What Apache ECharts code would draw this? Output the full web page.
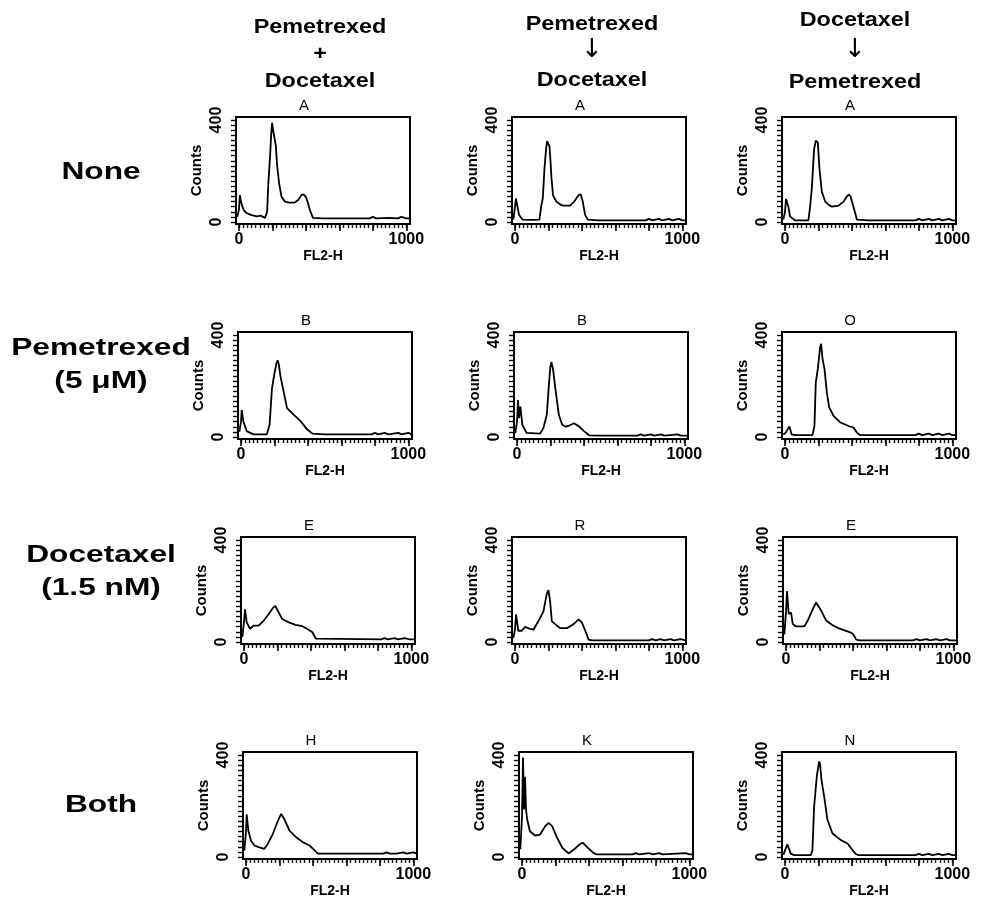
<!DOCTYPE html>
<html>
<head>
<meta charset="utf-8">
<script src="https://cdn.jsdelivr.net/npm/echarts@6/dist/echarts.min.js"></script>
<style>
  html, body { margin: 0; background: #fff; }
  #chart { width: 984px; height: 912px; }
</style>
</head>
<body>
<div id="chart"></div>
<script>
// column headers, row labels, panel letters
const colHeaders = [
  ['Pemetrexed', '+', 'Docetaxel'],
  ['Pemetrexed', '\u2193', 'Docetaxel'],
  ['Docetaxel', '\u2193', 'Pemetrexed']
]
const rowLabels = [['None'], ['Pemetrexed', '(5 \u03bcM)'], ['Docetaxel', '(1.5 nM)'], ['Both']]
const panelLetters = [['A', 'A', 'A'], ['B', 'B', 'O'], ['E', 'R', 'E'], ['H', 'K', 'N']]
const xTickLabels = [0, 1000]
const yTickLabels = [0, 400]
const xAxisName = 'FL2-H'
const yAxisName = 'Counts'

// histograms: [FL2-H channel, counts]
const noneCombo = [[-10,20],[0,50],[5,105],[12,80],[20,60],[30,45],[45,35],[70,28],[105,22],[130,25],[155,16],[168,40],[175,150],[185,250],[192,340],[198,390],[204,360],[212,330],[220,300],[228,220],[240,150],[254,99],[274,80],[300,76],[333,76],[353,86],[373,105],[385,108],[399,99],[412,75],[423,48],[442,16],[500,14],[780,14],[800,20],[820,14],[900,16],[950,14],[970,20],[1000,14],[1020,14]]
const nonePemDoc = [[-10,10],[0,60],[5,92],[12,70],[24,28],[45,9],[100,8],[146,9],[156,60],[166,92],[176,208],[186,290],[192,317],[196,323],[206,297],[212,240],[217,182],[227,105],[247,80],[267,70],[287,64],[328,64],[354,80],[379,105],[393,108],[405,80],[419,28],[435,9],[500,6],[780,6],[800,12],[820,6],[860,12],[880,6],[920,12],[940,6],[980,12],[1000,6],[1020,6]]
const noneDocPem = [[-10,10],[0,40],[6,90],[20,60],[30,22],[60,6],[140,6],[150,60],[160,130],[168,220],[174,286],[184,319],[190,325],[196,312],[206,209],[220,119],[240,80],[260,68],[280,60],[320,64],[350,80],[370,100],[380,108],[392,100],[400,93],[414,48],[430,9],[500,6],[780,6],[800,12],[820,6],[860,12],[880,6],[920,12],[940,6],[980,12],[1000,6],[1020,6]]
const pemCombo = [[-10,20],[0,60],[4,106],[14,62],[34,23],[74,10],[154,10],[171,49],[185,190],[201,254],[212,290],[219,301],[226,285],[235,241],[255,177],[275,113],[316,87],[356,62],[396,29],[427,13],[500,10],[780,10],[800,16],[820,10],[860,16],[880,10],[940,16],[960,10],[1000,16],[1020,10]]
const pemPemDoc = [[-10,15],[0,60],[6,145],[12,74],[20,119],[32,48],[57,16],[138,13],[158,35],[178,87],[189,190],[199,274],[205,294],[215,268],[229,190],[250,87],[270,48],[290,41],[310,44],[341,54],[371,41],[402,22],[432,6],[500,5],[720,5],[740,10],[760,5],[800,10],[820,5],[860,10],[880,5],[960,10],[980,5],[1020,5]]
const pemDocPem = [[-10,10],[4,17],[26,41],[40,10],[60,7],[164,7],[176,43],[184,214],[196,267],[210,353],[216,366],[224,307],[236,267],[250,175],[264,116],[290,83],[330,57],[380,43],[410,37],[430,17],[450,7],[780,7],[800,13],[820,7],[860,13],[880,7],[920,13],[940,7],[980,13],[1000,7],[1020,7]]
const docCombo = [[-10,20],[0,80],[6,128],[16,77],[36,51],[56,64],[87,64],[117,83],[147,109],[175,135],[187,141],[198,144],[208,115],[228,90],[268,77],[308,67],[349,62],[379,51],[409,38],[429,13],[440,10],[820,10],[840,15],[860,10],[900,15],[920,10],[960,15],[990,10],[1020,10]]
const docPemDoc = [[-10,15],[0,50],[6,108],[20,44],[40,44],[60,59],[90,51],[110,48],[140,82],[170,120],[190,190],[200,203],[210,158],[220,82],[240,70],[270,54],[310,54],[350,70],[380,89],[400,76],[420,44],[440,9],[460,6],[800,6],[820,11],[840,6],[870,11],[890,6],[930,11],[950,6],[990,11],[1020,6]]
const docDocPem = [[-10,30],[0,120],[6,200],[16,110],[30,116],[40,71],[60,61],[110,61],[130,84],[160,129],[180,155],[190,159],[210,123],[240,84],[280,65],[320,52],[380,39],[400,32],[420,9],[440,6],[760,6],[780,11],[800,6],[840,11],[860,6],[900,11],[920,6],[960,11],[980,6],[1020,6]]
const bothCombo = [[-10,25],[0,100],[4,167],[14,103],[30,64],[50,45],[80,38],[110,32],[130,51],[160,90],[190,141],[210,169],[230,147],[260,103],[300,77],[340,58],[380,45],[410,26],[430,13],[820,13],[840,18],[860,13],[900,13],[940,18],[960,13],[1000,18],[1020,13]]
const bothPemDoc = [[-10,30],[0,160],[6,390],[12,186],[18,315],[24,186],[31,147],[47,101],[78,84],[108,88],[139,121],[159,134],[180,121],[210,75],[241,36],[278,14],[312,30],[343,49],[363,56],[394,36],[424,17],[445,10],[660,10],[680,15],[700,10],[760,15],[780,10],[820,15],[840,10],[980,15],[1000,10],[1020,10]]
const bothDocPem = [[-10,8],[0,13],[14,50],[34,13],[54,7],[154,7],[164,26],[174,197],[190,316],[204,375],[210,362],[218,303],[234,237],[254,145],[284,92],[334,66],[374,53],[404,26],[424,11],[440,7],[780,7],[800,12],[820,7],[860,12],[880,7],[920,12],[940,7],[980,12],[1000,7],[1020,7]]

const panels = [
  [noneCombo, nonePemDoc, noneDocPem],
  [pemCombo, pemPemDoc, pemDocPem],
  [docCombo, docPemDoc, docDocPem],
  [bothCombo, bothPemDoc, bothDocPem]
]

// layout (pixels)
const boxLefts = [[236, 512, 782], [238, 514, 782], [241, 512, 783], [243, 519, 782]]
const boxTops = [117, 332, 537, 752]
const boxW = 174
const boxH = 107
const headerX = [320, 592, 855]
const headerY = [[27, 54, 81], [24, 50, 80], [20, 50, 82]]
const rowLabelX = 101
const rowLabelY = [[172], [348, 381], [555, 588], [805]]

const ticks = (a, b, step) => { const t = []; for (let v = a; v <= b; v += step) t.push(v); return t }

const grid = [], xAxis = [], yAxis = [], series = []
const graphic = []
const FONT = '"Liberation Sans", Arial, sans-serif'

panels.forEach((row, r) => {
  row.forEach((data, c) => {
    const g = grid.length
    grid.push({ left: boxLefts[r][c], top: boxTops[r], width: boxW, height: boxH,
      show: true, borderColor: '#000', borderWidth: 2, backgroundColor: 'transparent' })
    const xBase = { gridIndex: g, type: 'value', min: -18, max: 1022, position: 'bottom',
      splitLine: { show: false }, axisLine: { onZero: false, lineStyle: { color: '#000', width: 2 } } }
    // minor ticks
    xAxis.push(Object.assign({}, xBase, {
      axisTick: { customValues: ticks(0, 1000, 25), length: 4, lineStyle: { color: '#000', width: 1.4 } },
      axisLabel: { show: false }
    }))
    // major ticks + labels + name
    xAxis.push(Object.assign({}, xBase, {
      axisTick: { customValues: ticks(0, 1000, 200), length: 7, lineStyle: { color: '#000', width: 1.6 } },
      axisLabel: { customValues: xTickLabels, formatter: v => String(v), color: '#000', fontFamily: FONT,
        fontSize: 16, fontWeight: 'bold', margin: 8 },
      name: xAxisName, nameLocation: 'middle', nameGap: 23,
      nameTextStyle: { color: '#000', fontFamily: FONT, fontSize: 14, fontWeight: 'bold' }
    }))
    yAxis.push({ gridIndex: g, type: 'value', min: -8, max: 412, splitLine: { show: false },
      axisLine: { onZero: false, lineStyle: { color: '#000', width: 2 } },
      axisTick: { customValues: ticks(0, 400, 20), length: 5, lineStyle: { color: '#000', width: 1.4 } },
      axisLabel: { customValues: yTickLabels, rotate: 90, color: '#000', fontFamily: FONT, fontSize: 16, fontWeight: 'bold', margin: 11 },
      name: yAxisName, nameLocation: 'middle', nameRotate: 90, nameGap: 32,
      nameTextStyle: { color: '#000', fontFamily: FONT, fontSize: 15, fontWeight: 'bold' }
    })
    series.push({ type: 'line', xAxisIndex: 2 * g, yAxisIndex: g, data: data,
      showSymbol: false, silent: true, lineStyle: { color: '#000', width: 1.8 } })
    graphic.push({ type: 'text', x: boxLefts[r][c] + 68, y: boxTops[r] - 11,
      style: { text: panelLetters[r][c], font: '15px ' + FONT, fill: '#000', textAlign: 'center', textVerticalAlign: 'middle' } })
  })
})

colHeaders.forEach((lines, c) => {
  lines.forEach((t, i) => {
    const isArrow = t === '\u2193'
    graphic.push({ type: 'text', x: headerX[c], y: headerY[c][i], scaleX: isArrow ? 1 : 1.17,
      style: { text: t, font: isArrow ? '26px "DejaVu Sans", sans-serif' : 'bold 20px ' + FONT, fill: '#000',
        textAlign: 'center', textVerticalAlign: 'middle' } })
  })
})

rowLabels.forEach((lines, r) => {
  lines.forEach((t, i) => {
    graphic.push({ type: 'text', x: rowLabelX, y: rowLabelY[r][i], scaleX: 1.32,
      style: { text: t, font: 'bold 24px ' + FONT, fill: '#000', textAlign: 'center', textVerticalAlign: 'middle' } })
  })
})

const chart = echarts.init(document.getElementById('chart'))
chart.setOption({ animation: false, backgroundColor: '#fff', grid, xAxis, yAxis, series, graphic })
</script>
</body>
</html>
